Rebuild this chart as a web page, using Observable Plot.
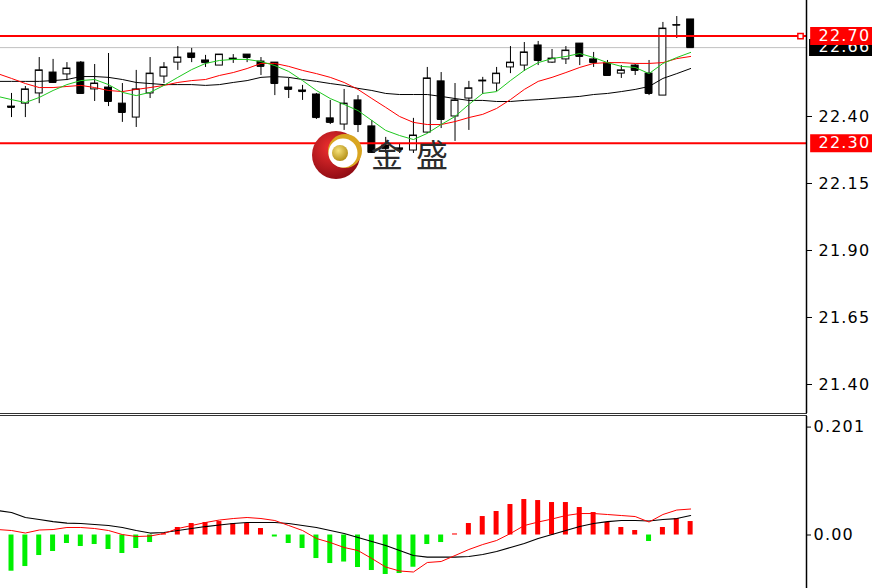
<!DOCTYPE html>
<html><head><meta charset="utf-8">
<script src="https://cdn.jsdelivr.net/npm/d3@7"></script>
<script src="https://cdn.jsdelivr.net/npm/@observablehq/plot@0.6"></script>
<style>
html,body{margin:0;padding:0;background:#fff;}
#wrap{width:872px;height:588px;overflow:hidden;position:relative;background:#fff;}
.sep{width:807px;height:1px;border-top:1px solid #333;border-bottom:1px solid #333;}
svg{display:block}
</style></head><body><div id="wrap"></div><script>
// ---- price candles (bar index 0..49) ----
const open  = [22.437,22.448,22.486,22.564,22.557,22.601,22.501,22.508,22.448,22.396,22.486,22.549,22.601,22.635,22.609,22.590,22.616,22.631,22.605,22.601,22.508,22.497,22.482,22.393,22.370,22.460,22.363,22.292,22.281,22.273,22.340,22.531,22.400,22.467,22.531,22.523,22.583,22.590,22.665,22.601,22.613,22.672,22.613,22.598,22.560,22.590,22.560,22.478,22.740,22.762];
const high  = [22.486,22.512,22.620,22.613,22.601,22.605,22.594,22.635,22.523,22.572,22.620,22.601,22.661,22.654,22.628,22.631,22.631,22.631,22.620,22.601,22.542,22.516,22.486,22.460,22.501,22.478,22.385,22.322,22.299,22.393,22.583,22.564,22.523,22.531,22.546,22.583,22.661,22.676,22.680,22.650,22.661,22.672,22.639,22.609,22.590,22.594,22.609,22.751,22.773,22.762];
const low   = [22.396,22.396,22.448,22.523,22.534,22.486,22.456,22.437,22.378,22.359,22.467,22.523,22.572,22.601,22.583,22.590,22.598,22.601,22.553,22.478,22.467,22.460,22.389,22.370,22.348,22.340,22.262,22.262,22.262,22.262,22.337,22.355,22.307,22.348,22.482,22.493,22.560,22.568,22.590,22.598,22.594,22.590,22.583,22.553,22.542,22.553,22.478,22.478,22.691,22.657];
const close = [22.434,22.501,22.572,22.527,22.579,22.486,22.523,22.456,22.415,22.501,22.560,22.583,22.620,22.620,22.601,22.631,22.613,22.620,22.587,22.523,22.501,22.493,22.396,22.378,22.448,22.370,22.266,22.281,22.277,22.329,22.542,22.389,22.460,22.505,22.534,22.560,22.601,22.639,22.609,22.616,22.646,22.624,22.601,22.553,22.572,22.572,22.486,22.728,22.741,22.657];
// ---- moving averages (bar index -1..49) ----
const maGreen = [22.475,22.463,22.452,22.471,22.497,22.519,22.534,22.538,22.519,22.490,22.478,22.490,22.516,22.546,22.575,22.598,22.609,22.613,22.613,22.605,22.590,22.568,22.534,22.497,22.467,22.445,22.422,22.385,22.348,22.329,22.314,22.337,22.370,22.400,22.445,22.486,22.493,22.534,22.572,22.601,22.616,22.624,22.635,22.620,22.601,22.587,22.583,22.560,22.598,22.620,22.639];
const maRed   = [22.560,22.542,22.523,22.508,22.508,22.512,22.516,22.508,22.497,22.493,22.501,22.508,22.516,22.527,22.534,22.538,22.553,22.564,22.579,22.598,22.598,22.587,22.572,22.560,22.546,22.527,22.501,22.467,22.434,22.400,22.378,22.370,22.370,22.381,22.396,22.408,22.430,22.463,22.501,22.531,22.546,22.564,22.583,22.598,22.601,22.601,22.598,22.598,22.601,22.616,22.624];
const maBlack = [22.531,22.531,22.531,22.531,22.534,22.538,22.549,22.549,22.546,22.538,22.527,22.523,22.519,22.519,22.519,22.516,22.519,22.527,22.534,22.546,22.549,22.546,22.538,22.531,22.523,22.516,22.505,22.497,22.486,22.482,22.482,22.482,22.475,22.467,22.460,22.460,22.456,22.456,22.460,22.463,22.467,22.471,22.475,22.482,22.486,22.493,22.501,22.512,22.542,22.560,22.579];
// ---- MACD panel ----
const macdHist = [-0.0674,-0.0587,-0.0382,-0.0307,-0.0158,-0.0214,-0.0177,-0.0270,-0.0344,-0.0251,-0.0140,0.002,0.0140,0.0214,0.0233,0.0251,0.0214,0.0214,0.0121,-0.0037,-0.0158,-0.0251,-0.0438,-0.0531,-0.0503,-0.0605,-0.0661,-0.0735,-0.0717,-0.0600,-0.0177,-0.0140,0.002,0.0214,0.0344,0.0438,0.0568,0.0661,0.0642,0.0605,0.0605,0.0512,0.0419,0.0233,0.0140,0.0084,-0.0121,0.0140,0.0307,0.0251];
const macdBlack = [0.0456,0.0419,0.0326,0.0289,0.0251,0.0223,0.0214,0.0196,0.0177,0.0140,0.0084,0.0037,0.0047,0.0084,0.0121,0.0158,0.0186,0.0214,0.0233,0.0233,0.0233,0.0214,0.0177,0.0140,0.0084,0.0028,-0.0047,-0.0121,-0.0196,-0.0289,-0.0382,-0.0410,-0.0410,-0.0410,-0.0400,-0.0363,-0.0307,-0.0233,-0.0158,-0.0065,0.0009,0.0084,0.0158,0.0214,0.0251,0.0270,0.0270,0.0261,0.0289,0.0307,0.0363];
const macdRed   = [0.0102,0.0084,0.0037,0.0093,0.0102,0.0140,0.0140,0.0121,0.0084,0.0009,-0.0028,-0.0019,0.0028,0.0121,0.0177,0.0233,0.0279,0.0307,0.0326,0.0307,0.0270,0.0177,0.0084,-0.0065,-0.0140,-0.0233,-0.0289,-0.0438,-0.0596,-0.0670,-0.0689,-0.0512,-0.0493,-0.0382,-0.0270,-0.0177,-0.0102,0.0028,0.0177,0.0242,0.0298,0.0363,0.0400,0.0400,0.0382,0.0363,0.0344,0.0242,0.0382,0.0465,0.0484];
// ---- levels, ticks, labels ----
const levels = [22.70, 22.30];
const bid = 22.657;
const bidLabel = "22.66";
const priceTicks = [22.40, 22.15, 21.90, 21.65, 21.40];
const macdTicks = [0.201, 0];
const macdTickLabels = ["0.201", "0.00"];
const logoText = "金盛";

// ---- layout ----
const W = 872, MR = 66;
const X_DOMAIN = [-0.794, 57.36];
const candles = open.map((o, i) => ({i, o, h: high[i], l: low[i], c: close[i]}));
const up = candles.filter(d => d.c > d.o), down = candles.filter(d => d.c <= d.o);
const line = arr => arr.map((v, k) => ({i: k - 1, v}));
const xr = X_DOMAIN[1];
const bw = 0.25;

const main = Plot.plot({
  width: W, height: 413, marginLeft: 0, marginRight: MR, marginTop: 0, marginBottom: 0,
  x: {type: "linear", domain: X_DOMAIN, axis: null},
  y: {type: "linear", domain: [21.2918, 22.8328], axis: null},
  style: {fontFamily: "DejaVu Sans", background: "#fff", color: "#000", overflow: "hidden"},
  marks: [
    Plot.ruleY([bid], {stroke: "#c0c0c0"}),
    Plot.ruleX(candles, {x: "i", y1: "l", y2: "h", stroke: "#000"}),
    Plot.rect(up, {x1: d => d.i - bw, x2: d => d.i + bw, y1: "o", y2: "c", fill: "#fff", stroke: "#000"}),
    Plot.rect(down, {x1: d => d.i - bw, x2: d => d.i + bw, y1: "o", y2: "c", fill: "#000", stroke: "#000"}),
    Plot.ruleY(candles, {x1: d => d.i - bw, x2: d => d.i + bw, y: "c", stroke: "#000"}),
    Plot.line(line(maBlack), {x: "i", y: "v", stroke: "#000", strokeWidth: 1}),
    Plot.line(line(maRed), {x: "i", y: "v", stroke: "#f00", strokeWidth: 1}),
    Plot.line(line(maGreen), {x: "i", y: "v", stroke: "#1ec81e", strokeWidth: 1}),
    Plot.ruleY(levels, {stroke: "#f00", strokeWidth: 2}),
    Plot.axisY({anchor: "right", label: null, ticks: priceTicks, tickFormat: d => d.toFixed(2), tickSize: 5, tickPadding: 7, fontSize: 16, className: "ax"}),
    Plot.ruleX([xr], {stroke: "#000", strokeWidth: 1.5}),
    Plot.ruleY([bid], {x1: xr + 0.22, x2: xr + 6, stroke: "#000", strokeWidth: 17}),
    Plot.text([bidLabel], {x: xr, y: bid, text: d => d, dx: 12, dy: -1, textAnchor: "start", fill: "#fff", fontSize: 16}),
    Plot.ruleY(levels, {x1: xr + 0.3, x2: xr + 6, stroke: "#f00", strokeWidth: 18}),
    Plot.text(levels, {x: xr, y: d => d, text: d => d.toFixed(2), dx: 12, textAnchor: "start", fill: "#fff", fontSize: 16}),
    Plot.dot([levels[0]], {x: xr, y: d => d, dx: -6, symbol: "square", r: 3, stroke: "#f00", strokeWidth: 1.5, fill: "#fff"})
  ]
});
d3.select(main).selectAll("text").attr("letter-spacing", 1.2);

// watermark logo
const svg = d3.select(main);
const defs = svg.append("defs");
const g1 = defs.append("radialGradient").attr("id", "lr").attr("cx", "40%").attr("cy", "35%").attr("r", "70%");
g1.append("stop").attr("offset", "0%").attr("stop-color", "#f03030");
g1.append("stop").attr("offset", "100%").attr("stop-color", "#8c0a12");
const g2 = defs.append("radialGradient").attr("id", "lg").attr("cx", "40%").attr("cy", "35%").attr("r", "70%");
g2.append("stop").attr("offset", "0%").attr("stop-color", "#f6e27a");
g2.append("stop").attr("offset", "100%").attr("stop-color", "#b08a10");
const lg = svg.append("g");
lg.append("circle").attr("cx", 336).attr("cy", 155).attr("r", 24).attr("fill", "url(#lr)");
lg.append("circle").attr("cx", 345).attr("cy", 151).attr("r", 17).attr("fill", "#d9a520");
lg.append("circle").attr("cx", 343).attr("cy", 153).attr("r", 14.5).attr("fill", "#fff");
lg.append("circle").attr("cx", 340).attr("cy", 153).attr("r", 8).attr("fill", "url(#lg)");
lg.append("text").attr("x", 371).attr("y", 167).attr("text-anchor", "start").text(logoText)
  .attr("font-family", "'Noto Sans CJK SC'").attr("font-size", 32).attr("letter-spacing", 13).attr("fill", "#2b2b2b");

const macd = Plot.plot({
  width: W, height: 172, marginLeft: 0, marginRight: MR, marginTop: 0, marginBottom: 0,
  x: {type: "linear", domain: X_DOMAIN, axis: null},
  y: {type: "linear", domain: [-0.0996, 0.2207], axis: null},
  style: {fontFamily: "DejaVu Sans", background: "#fff", color: "#000", overflow: "hidden"},
  marks: [
    Plot.rect(macdHist.map((v, i) => ({i, v})).filter(d => d.v >= 0), {x1: d => d.i - 0.18, x2: d => d.i + 0.18, y1: 0, y2: "v", fill: "#f00"}),
    Plot.rect(macdHist.map((v, i) => ({i, v})).filter(d => d.v < 0), {x1: d => d.i - 0.18, x2: d => d.i + 0.18, y1: 0, y2: "v", fill: "#00f000"}),
    Plot.line(line(macdBlack), {x: "i", y: "v", stroke: "#000", strokeWidth: 1.2}),
    Plot.line(line(macdRed), {x: "i", y: "v", stroke: "#f00", strokeWidth: 1}),
    Plot.axisY({anchor: "right", label: null, ticks: macdTicks, tickFormat: d => macdTickLabels[macdTicks.indexOf(d)], tickSize: 4, tickPadding: 3, fontSize: 16, className: "ax"}),
    Plot.ruleX([xr], {stroke: "#000", strokeWidth: 1.5})
  ]
});
d3.select(macd).selectAll(".ax text").attr("letter-spacing", 1.2);

const wrap = document.getElementById("wrap");
wrap.appendChild(main);
const sep = document.createElement("div"); sep.className = "sep"; wrap.appendChild(sep);
wrap.appendChild(macd);
</script></body></html>
